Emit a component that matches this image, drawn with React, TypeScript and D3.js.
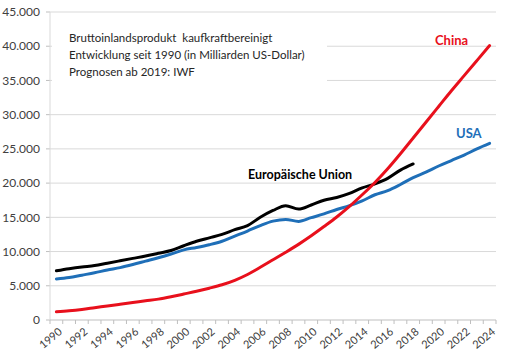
import React from "react";
import * as d3 from "d3";

const years: number[] = d3.range(1990, 2025);
const chinaValues: number[] = [1200, 1350, 1550, 1800, 2050, 2300, 2550, 2800, 3050, 3400, 3800, 4200, 4650, 5150, 5800, 6650, 7700, 8800, 9900, 11050, 12300, 13650, 15050, 16600, 18300, 20100, 22100, 24300, 26600, 28900, 31200, 33500, 35700, 37900, 40100];
const usaValues: number[] = [6000, 6200, 6550, 6900, 7300, 7650, 8100, 8600, 9100, 9650, 10250, 10600, 11000, 11500, 12250, 13000, 13800, 14450, 14700, 14400, 14950, 15500, 16150, 16700, 17400, 18300, 18900, 19800, 20800, 21600, 22500, 23300, 24100, 25000, 25800];
const euValues: number[] = [7200, 7500, 7750, 7950, 8300, 8650, 9000, 9350, 9750, 10150, 10850, 11500, 12000, 12500, 13200, 13800, 15000, 16000, 16700, 16200, 16800, 17500, 17900, 18500, 19300, 19900, 20700, 21900, 22800];
const yTicks: number[] = [0, 5000, 10000, 15000, 20000, 25000, 30000, 35000, 40000, 45000];
const titleLines: string[] = [
  "Bruttoinlandsprodukt \u00a0kaufkraftbereinigt",
  "Entwicklung seit 1990 (in Milliarden US-Dollar)",
  "Prognosen ab 2019: IWF",
];

const W = 506;
const H = 357;
const FONT = "Lato, 'Liberation Sans', Arial, sans-serif";

export default function App() {
  const x = d3.scaleBand<number>().domain(years).range([50, 496]).padding(0);
  const y = d3.scaleLinear().domain([0, 45000]).range([320, 12]);
  const cx = (yr: number) => (x(yr) as number) + x.bandwidth() / 2;
  const fmt = (v: number) => (v === 0 ? "0" : d3.format(",")(v).replace(/,/g, "."));

  const line = d3
    .line<number>()
    .x((_, i) => cx(years[i]))
    .y((v) => y(v))
    .curve(d3.curveMonotoneX);

  const series = [
    { name: "EU", values: euValues, color: "#000000" },
    { name: "USA", values: usaValues, color: "#1f6fb8" },
    { name: "China", values: chinaValues, color: "#e8101c" },
  ];

  const tickXs = [...years.map((yr) => x(yr) as number), 496];

  return (
    <svg
      width={W}
      height={H}
      style={{ position: "absolute", left: 0, top: 0, background: "#fff" }}
      fontFamily={FONT}
    >
      <rect x={0} y={0} width={W} height={H} fill="#fff" />
      {yTicks.map((t) => (
        <g key={t}>
          {t > 0 && (
            <line x1={50} x2={496} y1={y(t)} y2={y(t)} stroke="#d9d9d9" strokeWidth={1} />
          )}
          <line x1={46} x2={50} y1={y(t)} y2={y(t)} stroke="#bfbfbf" strokeWidth={1} />
          <text x={40} y={y(t)} dy="0.35em" textAnchor="end" fontSize={12} fill="#404040">
            {fmt(t)}
          </text>
        </g>
      ))}
      <line x1={50} x2={50} y1={12} y2={320} stroke="#d9d9d9" strokeWidth={1} />
      <line x1={50} x2={496} y1={320} y2={320} stroke="#bfbfbf" strokeWidth={1} />
      {tickXs.map((tx, i) => (
        <line key={i} x1={tx} x2={tx} y1={320} y2={324} stroke="#bfbfbf" strokeWidth={1} />
      ))}
      {years
        .filter((yr) => yr % 2 === 0)
        .map((yr) => (
          <text
            key={yr}
            transform={`translate(${cx(yr) + 4},${330}) rotate(-40)`}
            textAnchor="end"
            dy="0.35em"
            fontSize={11}
            fill="#404040"
          >
            {yr}
          </text>
        ))}
      <rect x={52} y={26} width={275} height={68} fill="#fff" />
      {titleLines.map((t, i) => (
        <text key={i} x={69} y={42 + i * 17} fontSize={11.5} fill="#262626">
          {t}
        </text>
      ))}
      {series.map((s) => (
        <path
          key={s.name}
          d={line(s.values) || ""}
          fill="none"
          stroke={s.color}
          strokeWidth={3}
          strokeLinejoin="round"
          strokeLinecap="round"
        />
      ))}
      <text x={248} y={179} fontSize={12.5} fontWeight="bold" fill="#000">
        Europäische Union
      </text>
      <text x={435} y={45} fontSize={13} fontWeight="bold" fill="#e8101c">
        China
      </text>
      <text x={456} y={138} fontSize={13} fontWeight="bold" fill="#1f6fb8">
        USA
      </text>
    </svg>
  );
}
